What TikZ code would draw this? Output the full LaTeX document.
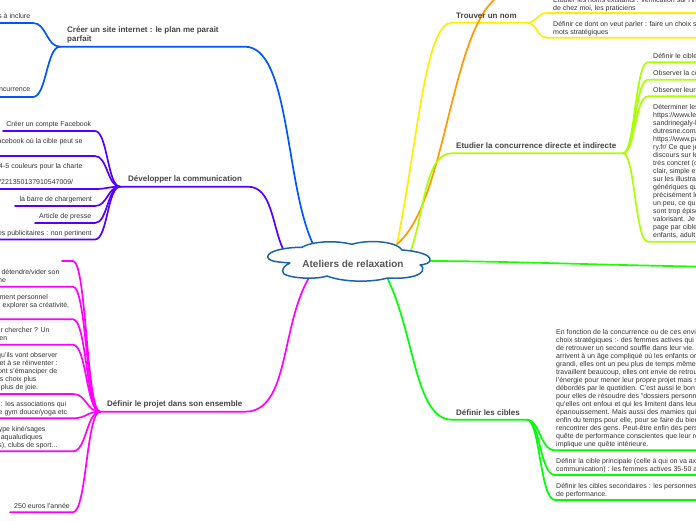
\documentclass[tikz,border=0pt]{standalone}
\usepackage{fontspec}
\setmainfont{Liberation Sans}
\definecolor{cblue}{HTML}{0055FF}
\definecolor{cpurple}{HTML}{5500FF}
\definecolor{cmag}{HTML}{FF00FF}
\definecolor{cyel}{HTML}{FFEE00}
\definecolor{corg}{HTML}{FF9900}
\definecolor{clime}{HTML}{AAFF00}
\definecolor{cgreen}{HTML}{00FF00}
\definecolor{ctxt}{HTML}{333333}
\definecolor{ctitle}{HTML}{444444}
\definecolor{ccloud}{HTML}{1A64AA}
\newcommand\rl[2]{\makebox[#1pt][r]{#2}}
\tikzset{
  link/.style={line width=1.7pt,line cap=round},
  leaf/.style={inner sep=0pt,text=ctxt,align=left,anchor=north west,yshift=-1pt,font=\fontsize{7}{8}\selectfont},
  title/.style={inner sep=0pt,text=ctitle,anchor=west,yshift=-0.5pt,font=\fontsize{8}{9}\selectfont\bfseries},
  titlem/.style={inner sep=0pt,text=ctitle,align=left,anchor=north west,yshift=-0.5pt,font=\fontsize{8}{9}\selectfont\bfseries},
  rootlabel/.style={inner sep=0pt,text=ctitle!90!white,font=\fontsize{10}{12}\selectfont\bfseries},
  cloudline/.style={draw=ccloud,fill=white,line width=1.5pt,line join=round}
}
\begin{document}
\begin{tikzpicture}[x=1pt,y=-1pt]
\useasboundingbox (0,0) rectangle (696,520);
\clip (0,0) rectangle (696,520);

% anchor points on the cloud
\coordinate (rblue) at (313,244);
\coordinate (rpurple) at (283,249);
\coordinate (rmag) at (310,276);
\coordinate (ryel) at (397,244);
\coordinate (rorg) at (397,244);
\coordinate (rlime) at (410.7,251);
\coordinate (rgreen) at (387.3,278);
\coordinate (rbright) at (428,261);
% branch junctions
\coordinate (jblue) at (60,46.7);
\coordinate (jpurple) at (120,186.7);
\coordinate (jmag) at (100,411.7);
\coordinate (jyel) at (527,22.7);
\coordinate (jlime) at (623,153.3);
\coordinate (jgreen) at (527,419.7);
% free ends
\coordinate (eorg) at (494,0);
\coordinate (ebright) at (696,266.5);

% main branches
\draw[link,cblue] (rblue) .. controls (285,185) and (290,46.7) .. (245,46.7) -- (jblue);
\draw[link,cpurple] (rpurple) .. controls (272,225) and (272,186.7) .. (248,186.7) -- (jpurple);
\draw[link,cmag] (rmag) .. controls (280,325) and (290,411.7) .. (245,411.7) -- (jmag);
\draw[link,cyel] (ryel) .. controls (418,140) and (425,22.7) .. (452,22.7) -- (jyel);
\draw[link,corg] (rorg) .. controls (445,205) and (450,40) .. (eorg);
\draw[link,clime] (rlime) .. controls (425,210) and (425,153.3) .. (452,153.3) -- (jlime);
\draw[link,cgreen] (rgreen) .. controls (415,335) and (415,419.7) .. (452,419.7) -- (jgreen);
\draw[link,cgreen!85!clime] (rbright) .. controls (500,261) and (600,265) .. (ebright);

% leaf connectors, left side
\foreach \n/\yy/\ex in {a/23/-3,b/97/-3}{
  \coordinate (eb\n) at (\ex,\yy);
  \draw[link,cblue] (jblue) .. controls (46.5,46.7) and (46.5,\yy) .. (33,\yy) -- (eb\n);
}
\foreach \n/\yy/\ex in {a/131/3,b/156/-3,c/189/-3,d/206/15,e/223/35,f/239.5/-3}{
  \coordinate (ep\n) at (\ex,\yy);
  \draw[link,cpurple] (jpurple) .. controls (107.5,186.7) and (107.5,\yy) .. (95,\yy) -- (ep\n);
}
\foreach \n/\yy/\ex in {a/261/62,b/286.7/-3,c/319.3/-3,d/344.7/-3,e/394/-3,f/418.3/-3,g/451.3/-3,h/512.3/10}{
  \coordinate (em\n) at (\ex,\yy);
  \draw[link,cmag] (jmag) .. controls (86.5,411.7) and (86.5,\yy) .. (73,\yy) -- (em\n);
}
% leaf connectors, right side
\foreach \n/\yy in {a/13,b/37.7}{
  \coordinate (ey\n) at (699,\yy);
  \draw[link,cyel] (jyel) .. controls (537,22.7) and (537,\yy) .. (547,\yy) -- (ey\n);
}
\foreach \n/\yy in {a/62.3,b/79.7,c/96.3,d/241.7}{
  \coordinate (el\n) at (699,\yy);
  \draw[link,clime] (jlime) .. controls (635,153.3) and (635,\yy) .. (648,\yy) -- (el\n);
}
\foreach \n/\yy in {a/450.3,b/475,c/500}{
  \coordinate (eg\n) at (699,\yy);
  \draw[link,cgreen] (jgreen) .. controls (540,419.7) and (540,\yy) .. (555,\yy) -- (eg\n);
}

% cloud
\path[cloudline] (267.7,256.7)
  .. controls (268,250) and (290,247) .. (302,247.3)
  .. controls (308,243) and (330,239) .. (352,244.3)
  .. controls (365,240) and (395,240) .. (402,250)
  .. controls (418,251) and (431,255) .. (430,260)
  .. controls (430,263) and (425,264.5) .. (420,265)
  .. controls (426,268) and (423,275) .. (410,277)
  .. controls (400,279) and (390,278) .. (387,278)
  .. controls (375,282) and (345,283) .. (327,276)
  .. controls (315,280) and (290,278) .. (284,274)
  .. controls (280,270) and (285,265) .. (290,263)
  .. controls (280,262) and (268,262) .. (267.7,256.7) -- cycle;
\node[rootlabel] (root) at (353,263.5) {Ateliers de relaxation};

% titles
\node[titlem] (tsite) at (67,25.5) {Créer un site internet : le plan me parait\\parfait};
\node[title] (tcomm) at (128,179) {Développer la communication};
\node[title] (tprojet) at (107,404) {Définir le projet dans son ensemble};
\node[title] (tnom) at (456,15.5) {Trouver un nom};
\node[title] (tconc) at (456,145.5) {Etudier la concurrence directe et indirecte};
\node[title] (tcibles) at (456,412.3) {Définir les cibles};

% left leaves: blue
\node[leaf] (l1) at (0,12.4) {\rl{30}{s à inclure}};
\node[leaf] (l2) at (0,86.4) {\rl{30}{ncurrence}};
% left leaves: purple
\node[leaf] (p1) at (0,120.2) {\rl{91}{Créer un compte Facebook}};
\node[leaf] (p2) at (0,137.2) {\rl{82.3}{acebook où la cible peut se}};
\node[leaf] (p3) at (0,162.2) {\rl{82.3}{4-5 couleurs pour la charte}\\[8pt]\rl{73}{/221350137910547009/}};
\node[leaf] (p4) at (0,195.6) {\rl{91.7}{la barre de chargement}};
\node[leaf] (p5) at (0,212.4) {\rl{91}{Article de presse}};
\node[leaf] (p6) at (0,229.4) {\rl{91.5}{es publicitaires : non pertinent}};
% left leaves: magenta
\node[leaf] (m1) at (0,268.6) {\rl{59.3}{détendre/vider son}\\\rl{5.7}{ne}};
\node[leaf] (m2) at (0,293.6) {\rl{47.7}{ment personnel}\\\rl{69}{explorer sa créativité,}};
\node[leaf] (m3) at (0,326.4) {\rl{49.3}{r chercher ? Un}\\\rl{7}{en}};
\node[leaf] (m4) at (0,351.4) {\rl{57.3}{qu'ils vont observer}\\\rl{57.3}{et à se réinventer :}\\\rl{57}{ont s'émanciper de}\\\rl{36.3}{s choix plus}\\\rl{38}{plus de joie.}};
\node[leaf] (m5) at (0,400.4) {\rl{66}{: les associations qui}\\\rl{67}{e gym douce/yoga etc}};
\node[leaf] (m6) at (0,425.4) {\rl{45.3}{ype kiné/sages}\\\rl{42.3}{aqualudiques}\\\rl{57.3}{s), clubs de sport...}};
\node[leaf] (m7) at (0,502) {\rl{69.7}{250 euros l'année}};

% right leaves: yellow
\node[leaf] (y1) at (553,-4.1) {Etudier les noms existants : vérification sur l'int\\de chez moi, les praticiens};
\node[leaf] (y2) at (553,20.4) {Définir ce dont on veut parler : faire un choix s\\mots stratégiques};
% right leaves: lime
\node[leaf] (g1) at (653,52.4) {Définir le cible};
\node[leaf] (g2) at (653,69.4) {Observer la co};
\node[leaf] (g3) at (653,86.4) {Observer leurs};
\node[leaf] (g4) at (653,103.2) {Déterminer les\\https://www.le\\sandrinegaly-l\\dutresne.com/\\https://www.pa\\ry.fr/ Ce que je\\discours sur le\\très concret (c\\clair, simple et\\sur les illustra\\génériques qu\\précisément le\\un peu, ce qui\\sont trop épisc\\valorisant. Je\\page par cible\\enfants, adult};
% right leaves: green
\node[leaf] (c1) at (556,328.6) {En fonction de la concurrence ou de ces envi\\choix stratégiques :- des femmes actives qui\\de retrouver un second souffle dans leur vie.\\arrivent à un âge compliqué où les enfants or\\grandi, elles ont un peu plus de temps même\\travaillent beaucoup, elles ont envie de retrou\\l'énergie pour mener leur propre projet mais s\\débordés par le quotidien. C'est aussi le bon\\pour elles de résoudre des "dossiers personn\\qu'elles ont enfoui et qui les limitent dans leur\\épanouissement. Mais aussi des mamies qui\\enfin du temps pour elle, pour se faire du bien\\rencontrer des gens. Peut-être enfin des pers\\quête de performance conscientes que leur re\\implique une quête intérieure.};
\node[leaf] (c2) at (556,457.2) {Définir la cible principale (celle à qui on va ax\\communication) : les femmes actives 35-50 a};
\node[leaf] (c3) at (556,482.2) {Définir les cibles secondaires : les personnes\\de performance.};
\end{tikzpicture}
\end{document}
